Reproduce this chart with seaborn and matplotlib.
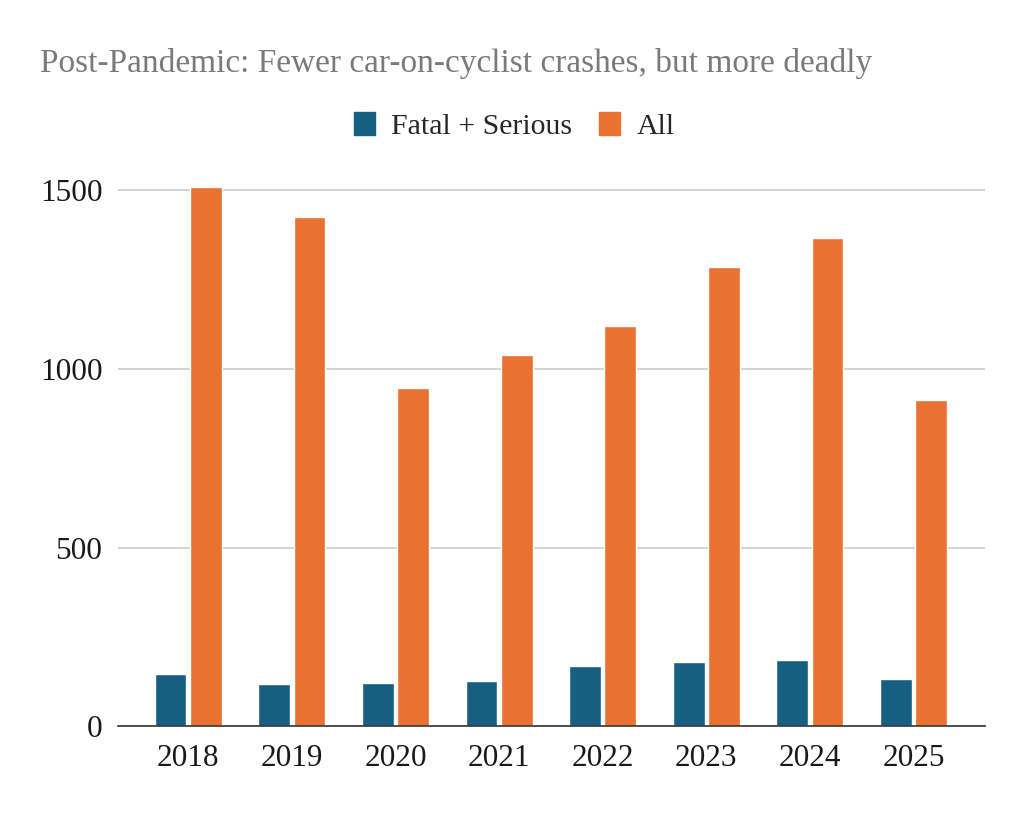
import pandas as pd
import matplotlib.pyplot as plt
import matplotlib.patches as mpatches
import seaborn as sns

# data
years = ["2018", "2019", "2020", "2021", "2022", "2023", "2024", "2025"]
fatal_serious = [145, 118, 120, 126, 168, 179, 185, 132]
all_crashes = [1508, 1424, 946, 1038, 1119, 1285, 1366, 912]
series_names = ["Fatal + Serious", "All"]
colors = ["#175F82", "#E97132"]

df = pd.DataFrame({
    "Year": years * 2,
    "Series": [series_names[0]] * len(years) + [series_names[1]] * len(years),
    "Crashes": fatal_serious + all_crashes,
})

sns.set_theme(style="white")
plt.rcParams['font.family'] = ['Liberation Serif', 'DejaVu Serif']

fig = plt.figure(figsize=(10.24, 8.16), dpi=100)
ax = fig.add_axes([0.115, 0.110, 0.847, 0.683])

sns.barplot(data=df, x="Year", y="Crashes", hue="Series", palette=colors,
            width=0.68, gap=0.1, ax=ax, legend=False, saturation=1)

ax.set_ylim(0, 1560)
ax.set_xlim(-0.68, 7.69)
ax.set_yticks([0, 500, 1000, 1500])
ax.yaxis.grid(True, color="#CCCCCC", linewidth=1.2)
ax.set_axisbelow(True)
ax.set_xlabel("")
ax.set_ylabel("")
ax.tick_params(axis="both", length=0, labelsize=22.5, colors="#1a1a1a")
ax.tick_params(axis="x", pad=13)
ax.tick_params(axis="y", pad=11)
for s in ["top", "left", "right"]:
    ax.spines[s].set_visible(False)
ax.spines["bottom"].set_color("#333333")
ax.spines["bottom"].set_linewidth(1.2)

fig.text(0.039, 0.922, "Post-Pandemic: Fewer car-on-cyclist crashes, but more deadly",
         fontsize=24, color="#7a7a7a", va="center", ha="left")

handles = [mpatches.Patch(color=c, label=n) for c, n in zip(colors, series_names)]
fig.legend(handles=handles, loc="center", bbox_to_anchor=(0.502, 0.846), ncol=2,
           frameon=False, fontsize=21.5, handlelength=0.7, handleheight=0.85,
           handletextpad=0.55, columnspacing=0.9)

fig.savefig("out.png", dpi=100)
